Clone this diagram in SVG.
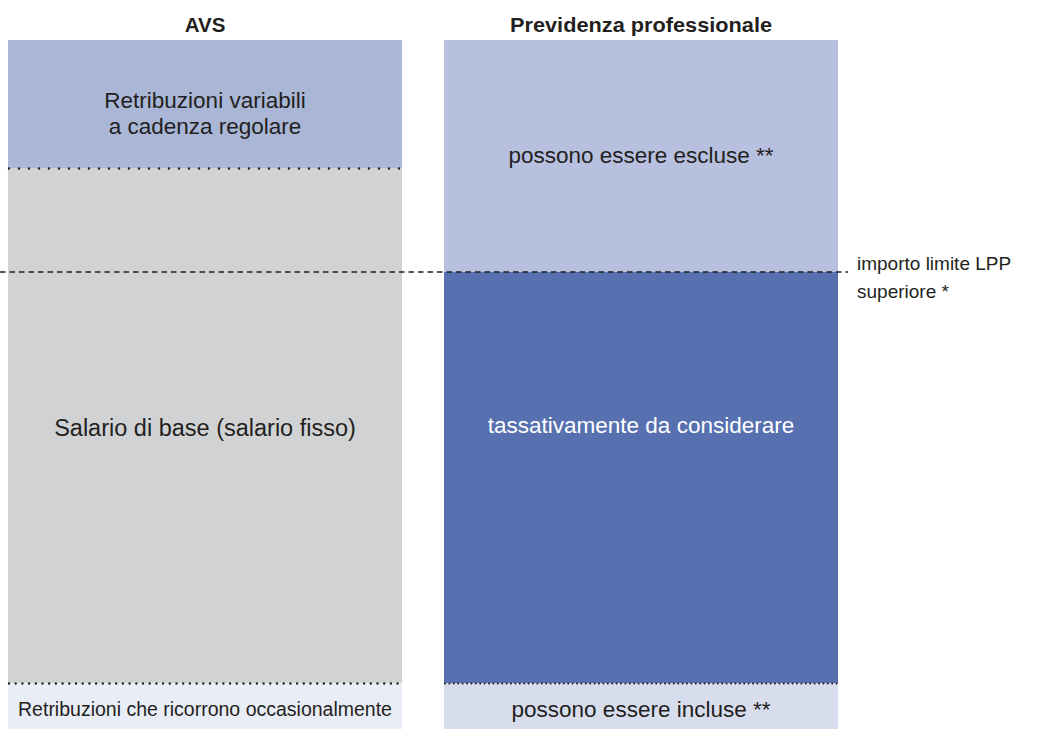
<svg xmlns="http://www.w3.org/2000/svg" width="1043" height="729" viewBox="0 0 1043 729">
<style>
text{font-family:"Liberation Sans",Arial,Helvetica,sans-serif;fill:#231f20;}
.h{font-size:20.5px;font-weight:bold;text-anchor:middle;}
.t{font-size:22.5px;text-anchor:middle;}
.s{font-size:19px;}
.dot{stroke:#231f20;stroke-width:2.4;stroke-linecap:round;fill:none;}
</style>
<rect width="1043" height="729" fill="#ffffff"/>
<text class="h" x="205" y="32">AVS</text>
<text class="h" x="641" y="32" textLength="262" lengthAdjust="spacingAndGlyphs">Previdenza professionale</text>
<g id="avs-variabili">
<rect x="8" y="40" width="394" height="128" fill="#a9b6d6"/>
<text class="t" x="205" y="108">Retribuzioni variabili</text>
<text class="t" x="205" y="134">a cadenza regolare</text>
</g>
<g id="avs-base">
<rect x="8" y="168" width="394" height="515" fill="#d1d2d4"/>
<text class="t" x="205" y="436" style="font-size:23.5px">Salario di base (salario fisso)</text>
</g>
<g id="avs-occasionali">
<rect x="8" y="683" width="394" height="46" fill="#e9edf7"/>
<text class="t" x="205" y="716" style="font-size:19.5px">Retribuzioni che ricorrono occasionalmente</text>
</g>
<g id="pp-escluse">
<rect x="444" y="40" width="394" height="232" fill="#b7c0de"/>
<text class="t" x="641" y="163">possono essere escluse **</text>
</g>
<g id="pp-considerare">
<rect x="444" y="272" width="394" height="411" fill="#5770b0"/>
<text class="t" x="641" y="433" style="fill:#ffffff">tassativamente da considerare</text>
</g>
<g id="pp-incluse">
<rect x="444" y="683" width="394" height="46" fill="#d8dded"/>
<text class="t" x="641" y="717">possono essere incluse **</text>
</g>
<g id="connectors">
<line class="dot" x1="9" y1="168.5" x2="402" y2="168.5" stroke-dasharray="0 10"/>
<line class="dot" x1="9" y1="683.5" x2="402" y2="683.5" stroke-dasharray="0 6.7"/>
<line class="dot" x1="445" y1="683.5" x2="838" y2="683.5" stroke-dasharray="0 4.4" style="stroke-width:2"/>
<line x1="0" y1="272" x2="848" y2="272" stroke="#231f20" stroke-width="1.3" stroke-dasharray="5.5 4"/>
</g>
<g id="limite">
<text class="s" x="857" y="270">importo limite LPP</text>
<text class="s" x="857" y="298">superiore *</text>
</g>
</svg>
